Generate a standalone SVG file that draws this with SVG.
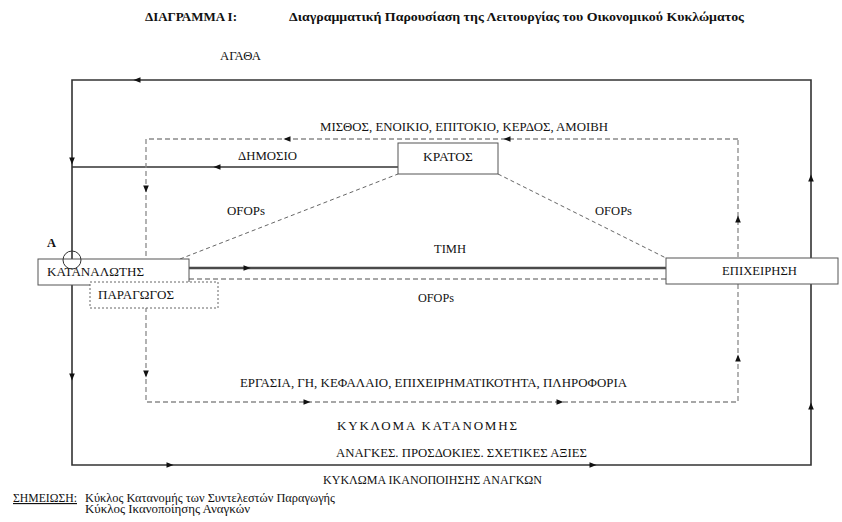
<svg xmlns="http://www.w3.org/2000/svg" width="842" height="522" viewBox="0 0 842 522" font-family="'Liberation Serif','Times New Roman',serif">
<defs>
<marker id="ah" viewBox="0 0 10 10" refX="5" refY="5" markerWidth="8" markerHeight="7" markerUnits="userSpaceOnUse" orient="auto">
<path d="M0,1 L10,5 L0,9 z" fill="#111"/>
</marker>
</defs>
<style>
text{font-family:"Liberation Serif","DejaVu Serif",serif;fill:#111;font-size:13px}
.b{font-weight:bold;font-size:12.5px}
.sm{font-size:11.5px}
.solid{fill:none;stroke:#333;stroke-width:1.6}
.thick{fill:none;stroke:#4a4a4a;stroke-width:2.6}
.dash{fill:none;stroke:#8a8a8a;stroke-width:1.3;stroke-dasharray:5 3}
.diag{fill:none;stroke:#666;stroke-width:1;stroke-dasharray:4 3}
.box{fill:#fff;stroke:#555;stroke-width:1}
.dbox{fill:#fff;stroke:#666;stroke-width:1;stroke-dasharray:2 2}
.arr{fill:none;stroke:none}
</style>
<rect width="842" height="522" fill="#fff"/>

<g id="title">
<text class="b" x="145" y="21" textLength="92" lengthAdjust="spacingAndGlyphs">ΔΙΑΓΡΑΜΜΑ Ι:</text>
<text class="b" x="289" y="21" textLength="455" lengthAdjust="spacingAndGlyphs">Διαγραμματική Παρουσίαση της Λειτουργίας του Οικονομικού Κυκλώματος</text>
</g>

<g id="connectors">
<path class="solid" d="M811,80 L72,80 L72,465 L811,465 Z"/>
<path class="solid" d="M398,167 L72,167"/>
<path class="dash" d="M738,139 L146,139 L146,402 L738,402 Z"/>
<path class="thick" d="M189,268 L666,268"/>
<path class="dash" d="M189,279 L666,279"/>
<path class="diag" d="M180,259 L398,174"/>
<path class="diag" d="M498,174 L666,258"/>
<g class="arr">
<path d="M142,80 L137,80" marker-end="url(#ah)"/>
<path d="M72,156 L72,161" marker-end="url(#ah)"/>
<path d="M72,372 L72,377" marker-end="url(#ah)"/>
<path d="M165,465 L170,465" marker-end="url(#ah)"/>
<path d="M588,465 L593,465" marker-end="url(#ah)"/>
<path d="M811,183 L811,178" marker-end="url(#ah)"/>
<path d="M811,411 L811,406" marker-end="url(#ah)"/>
<path d="M222,167 L217,167" marker-end="url(#ah)"/>
<path d="M292,139 L287,139" marker-end="url(#ah)"/>
<path d="M512,139 L507,139" marker-end="url(#ah)"/>
<path d="M146,184 L146,189" marker-end="url(#ah)"/>
<path d="M146,369 L146,374" marker-end="url(#ah)"/>
<path d="M302,402 L307,402" marker-end="url(#ah)"/>
<path d="M555,402 L560,402" marker-end="url(#ah)"/>
<path d="M738,224 L738,219" marker-end="url(#ah)"/>
<path d="M738,363 L738,358" marker-end="url(#ah)"/>
<path d="M242,268 L247,268" marker-end="url(#ah)"/>
</g>
</g>

<g id="kratos">
<rect class="box" x="398" y="143" width="100" height="31"/>
<text x="423" y="161" textLength="50" lengthAdjust="spacingAndGlyphs">ΚΡΑΤΟΣ</text>
</g>

<g id="epixeirisi">
<rect class="box" x="666" y="258" width="172" height="26"/>
<text x="722" y="275" textLength="75" lengthAdjust="spacingAndGlyphs">ΕΠΙΧΕΙΡΗΣΗ</text>
</g>

<g id="katanalotis">
<rect class="box" x="38" y="259" width="151" height="26"/>
<text x="47" y="276" textLength="97" lengthAdjust="spacingAndGlyphs">ΚΑΤΑΝΑΛΩΤΗΣ</text>
</g>

<g id="paragogos">
<rect class="dbox" x="90" y="282" width="128" height="26"/>
<text x="98" y="299" textLength="76" lengthAdjust="spacingAndGlyphs">ΠΑΡΑΓΩΓΟΣ</text>
</g>

<g id="pointA">
<circle cx="72" cy="260" r="9" fill="none" stroke="#333" stroke-width="1"/>
<text class="b" x="47" y="247">Α</text>
</g>

<g id="labels">
<text x="220" y="60" textLength="41" lengthAdjust="spacingAndGlyphs">ΑΓΑΘΑ</text>
<text x="320" y="131" textLength="288" lengthAdjust="spacingAndGlyphs">ΜΙΣΘΟΣ, ΕΝΟΙΚΙΟ, ΕΠΙΤΟΚΙΟ, ΚΕΡΔΟΣ, ΑΜΟΙΒΗ</text>
<text x="238" y="160" textLength="59" lengthAdjust="spacingAndGlyphs">ΔΗΜΟΣΙΟ</text>
<text x="227" y="215" textLength="38" lengthAdjust="spacingAndGlyphs">OFOPs</text>
<text x="595" y="215" textLength="37" lengthAdjust="spacingAndGlyphs">OFOPs</text>
<text x="434" y="253" textLength="32" lengthAdjust="spacingAndGlyphs">ΤΙΜΗ</text>
<text x="418" y="302" textLength="36" lengthAdjust="spacingAndGlyphs">OFOPs</text>
<text x="240" y="387" textLength="387" lengthAdjust="spacingAndGlyphs">ΕΡΓΑΣΙΑ, ΓΗ, ΚΕΦΑΛΑΙΟ, ΕΠΙΧΕΙΡΗΜΑΤΙΚΟΤΗΤΑ, ΠΛΗΡΟΦΟΡΙΑ</text>
<text x="337" y="430" textLength="180">ΚΥΚΛΟΜΑ ΚΑΤΑΝΟΜΗΣ</text>
<text x="336" y="457" textLength="251" lengthAdjust="spacingAndGlyphs">ΑΝΑΓΚΕΣ. ΠΡΟΣΔΟΚΙΕΣ. ΣΧΕΤΙΚΕΣ ΑΞΙΕΣ</text>
<text x="323" y="484" textLength="219" lengthAdjust="spacingAndGlyphs">ΚΥΚΛΩΜΑ ΙΚΑΝΟΠΟΙΗΣΗΣ ΑΝΑΓΚΩΝ</text>
</g>

<g id="note">
<text class="sm" x="13" y="502" textLength="64" lengthAdjust="spacingAndGlyphs" text-decoration="underline">ΣΗΜΕΙΩΣΗ:</text>
<text class="sm" x="85" y="502" textLength="250" lengthAdjust="spacingAndGlyphs">Κύκλος Κατανομής των Συντελεστών Παραγωγής</text>
<text class="sm" x="85" y="513" textLength="165" lengthAdjust="spacingAndGlyphs">Κύκλος Ικανοποίησης Αναγκών</text>
</g>
</svg>
